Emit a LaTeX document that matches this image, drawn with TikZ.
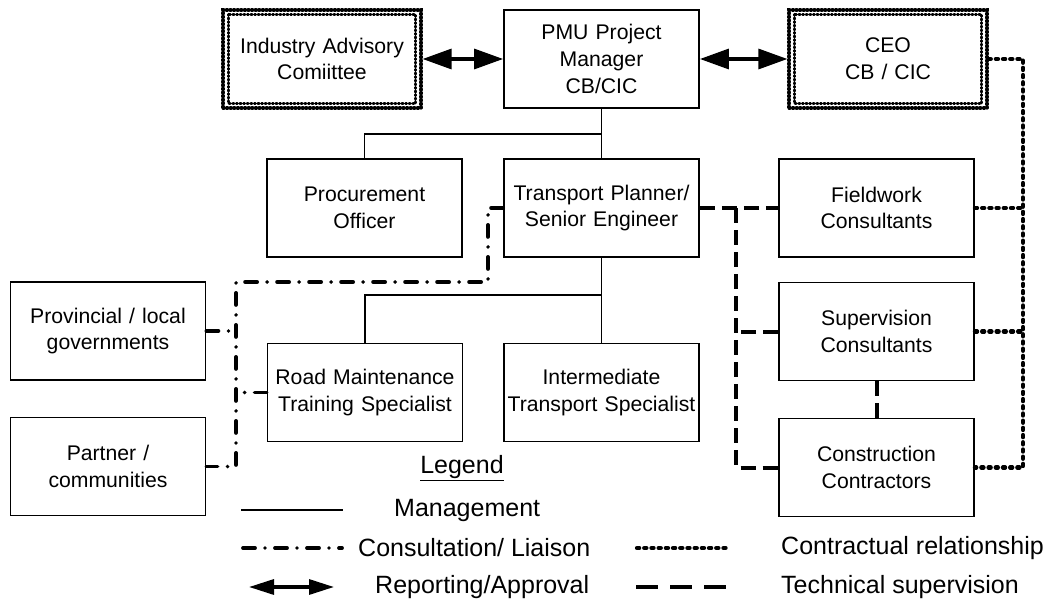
\documentclass[tikz,border=0pt]{standalone}
\usepackage{fontspec}
\setmainfont{Liberation Sans}
\usetikzlibrary{arrows.meta}
\begin{document}
\begin{tikzpicture}[x=1pt,y=-1pt,
  boxfont/.style={font=\fontsize{21.2}{26.7}\selectfont},
  legfont/.style={font=\fontsize{25}{30}\selectfont},
  box/.style={draw, line width=1.8pt, boxfont, align=center,
    text width=191pt, inner xsep=2pt, inner ysep=0pt, minimum height=98pt},
  widebox/.style={box, text width=194pt},
  beads/.style={line width=3.2pt, line cap=round, dash pattern=on 1pt off 2.6pt},
  mgmt/.style={line width=1.8pt},
  consult/.style={line width=3.8pt, line cap=round,
    dash pattern=on 12pt off 10pt on 0pt off 10pt},
  contract/.style={line width=4.2pt, line cap=round, dash pattern=on 2.2pt off 5pt},
  tech/.style={line width=4pt, dash pattern=on 15pt off 7pt},
  techleg/.style={line width=4.5pt, dash pattern=on 22pt off 12pt},
  report/.style={line width=3.2pt,
    {Triangle[length=29pt,width=20pt]}-{Triangle[length=29pt,width=20pt]}},
  reportleg/.style={line width=3.2pt,
    {Triangle[length=25pt,width=15pt]}-{Triangle[length=25pt,width=15pt]}},
  legtext/.style={legfont, anchor=west, inner sep=0pt}
]
\useasboundingbox (0,0) rectangle (1051,604);

% top row
\node[widebox, beads] (iac) at (322,59) {Industry Advisory\\Comiittee};
\node[box] (pmu) at (601.5,59) {PMU Project\\Manager\\CB/CIC};
\node[widebox, beads] (ceo) at (888,59) {CEO\\CB / CIC};
\draw[beads] ([shift={(7,6)}]iac.north west) rectangle ([shift={(-7,-6)}]iac.south east);
\draw[beads] ([shift={(7,6)}]ceo.north west) rectangle ([shift={(-7,-6)}]ceo.south east);

% second row
\node[box] (proc) at (364.5,208) {Procurement\\Officer};
\node[box] (tp) at (601.5,208) {Transport Planner/\\Senior Engineer};
\node[box] (fw) at (876.5,208) {Fieldwork\\Consultants};

% third row and lower boxes
\node[box] (prov) at (108,331) {Provincial / local\\governments};
\node[box] (sup) at (876.5,331.5) {Supervision\\Consultants};
\node[box] (road) at (365,392.5) {Road Maintenance\\Training Specialist};
\node[box] (inter) at (601.5,392.5) {Intermediate\\Transport Specialist};
\node[box] (part) at (108,466.5) {Partner /\\communities};
\node[box] (con) at (876.5,467.5) {Construction\\Contractors};

% reporting / approval
\draw[report] (iac.east) -- (pmu.west);
\draw[report] (pmu.east) -- (ceo.west);

% management lines
\draw[mgmt] (pmu.south) -- (tp.north);
\draw[mgmt] (pmu.south) ++(0,25) -| (proc.north);
\draw[mgmt] (tp.south) -- (inter.north);
\draw[mgmt] (tp.south) ++(0,37) -| (road.north);

% consultation / liaison
\coordinate (c1) at (488,282);
\coordinate (c2) at (236,282);
\draw[consult] (tp.west) -| (c1) -- (c2) |- (part.east);
\draw[consult] (prov.east) -- (prov.east -| c2);
\draw[consult] (road.west) -- (road.west -| c2);

% technical supervision
\coordinate (t1) at (736,208);
\draw[tech] (tp.east) -- (fw.west);
\draw[tech] (t1) |- (con.west);
\draw[tech] (sup.west) -- (sup.west -| t1);
\draw[tech] (sup.south) -- (con.north);

% contractual relationship
\coordinate (k1) at (1023,59);
\draw[contract] (ceo.east) -- (k1) |- (con.east);
\draw[contract] (fw.east) -- (fw.east -| k1);
\draw[contract] (sup.east) -- (sup.east -| k1);

% legend
\node[legfont, inner sep=0pt] (leg) at (462,468) {\underline{Legend}};
\coordinate (lm1) at (241,510); \coordinate (lm2) at (343,510);
\draw[mgmt] (lm1) -- (lm2);
\node[legtext] (lmt) at (394,510) {Management};
\coordinate (lc1) at (243,548); \coordinate (lc2) at (342,548);
\draw[consult] (lc1) -- (lc2);
\node[legtext] (lct) at (358,548) {Consultation/ Liaison};
\coordinate (lr1) at (249,587); \coordinate (lr2) at (334,587);
\draw[reportleg] (lr1) -- (lr2);
\node[legtext] (lrt) at (375,587) {Reporting/Approval};
\coordinate (lk1) at (637,548); \coordinate (lk2) at (726,548);
\draw[contract] (lk1) -- (lk2);
\node[legtext] (lkt) at (781,548) {Contractual relationship};
\coordinate (lt1) at (636,587); \coordinate (lt2) at (732,587);
\draw[techleg] (lt1) -- (lt2);
\node[legtext] (ltt) at (781,587) {Technical supervision};
\end{tikzpicture}
\end{document}
